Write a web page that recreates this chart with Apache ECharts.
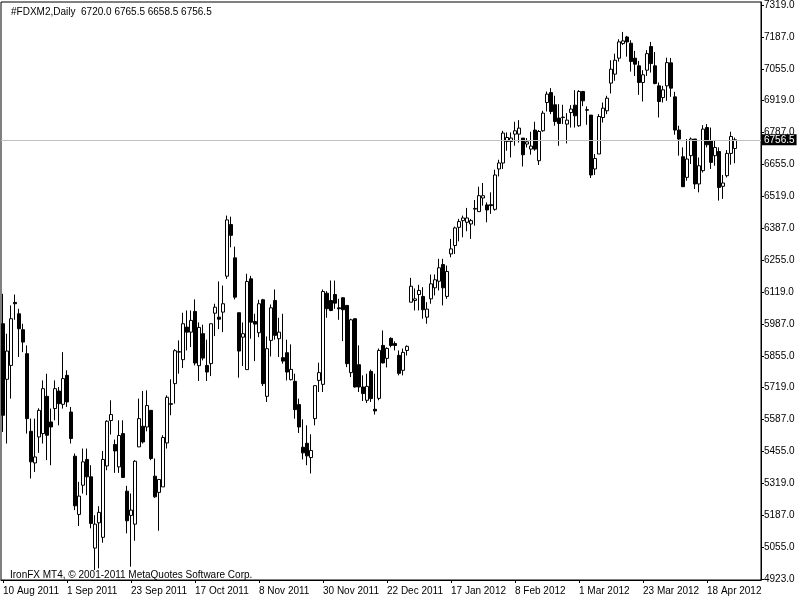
<!DOCTYPE html>
<html>
<head>
<meta charset="utf-8">
<script src="https://cdn.jsdelivr.net/npm/echarts@6/dist/echarts.min.js"></script>
<style>html,body{margin:0;padding:0;background:#fff}#c{width:800px;height:600px}</style>
</head>
<body>
<div id="c"></div>
<script>
// Daily FDXM2 candles, 10 Aug 2011 .. 18 Apr 2012
const opens = [5988.5,5756.5,5814.5,6077.5,6030,5963.5,5863.5,5539.5,5407.5,5516,5530,5685.5,5578.5,5634.5,5707.5,5652,5773,5620,5435.5,5192.5,5314.5,5422,5349.5,5052,5157.5,5097,5395,5584.5,5484.5,5391,5530,5289.5,5188.5,5152,5474.5,5560.5,5557.5,5627,5352,5284.5,5307.5,5491,5652,5738.5,5870,5838.5,5974.5,5953.5,6040,5813.5,5947,5814.5,5822,6032.5,6016,6037,6187,6402.5,6263.5,6034.5,5932.5,5797,6176,5998,5951,6088.5,5685.5,5919,6085.5,5926,5847,5867.5,5755,5748,5651,5473,5489.5,5430,5592.5,5752,5735.5,6116,6085.5,6110.5,6055,6097,6065,5784.5,6009.5,5817.5,5724.5,5669,5789.5,5631.5,5677,5898,5844,5927.5,5906,5856.5,5794,5877,6078.5,6085.5,6110.5,6102.5,6016,6092.5,6138.5,6166,6235.5,6102.5,6280,6315,6391,6419,6412,6405,6467,6456.5,6513.5,6484.5,6485.5,6466,6634.5,6659.5,6749.5,6749.5,6780,6780,6763.5,6738.5,6717.5,6797,6669,6794,6912,6953.5,6902.5,6847,6849,6822,6870,6901,6815,6958,6882,6859.5,6634.5,6697,6849.5,6877.5,6993,7030.5,7097,7158,7185.5,7159.5,7097,7065,6995.5,7047,7145.5,7065,6981.5,6932.5,6981.5,7077.5,6935.5,6797,6685.5,6599.5,6690,6759.5,6572,6627.5,6807.5,6752.5,6690,6707.5,6562,6606.5,6699.5,6720];
const highs = [6113.5,5947,6065,6110.5,6051,5988.5,5898,5592.5,5592.5,5635.5,5752,5780,5634.5,5752,5724.5,5870,5794,5641,5447,5328.5,5467.5,5467.5,5398,5189.5,5227,5457.5,5585.5,5669,5505,5585.5,5585.5,5312,5280,5419,5676,5707.5,5710.5,5627,5426,5338.5,5523,5689.5,5756.5,5882.5,5919,6034.5,6044,6044,6090,5994,5984.5,5922,5988.5,6072,6165,6148,6440,6435.5,6310.5,6034.5,5994,6197,6188.5,6030,6088.5,6092.5,5935.5,6069,6131.5,6013.5,6030,5922,5902.5,5780,5676,5589.5,5564.5,5527,5731.5,5826,6131.5,6124.5,6169,6169,6092.5,6099.5,6065,6009.5,6009.5,5898,5773,5780,5797,5780,5885,5960.5,5890,5931.5,5915,5877,5885,5898,6180,6135.5,6151,6141,6078.5,6194,6194,6259.5,6259.5,6231.5,6342.5,6394,6426,6440,6472,6426,6505,6560.5,6576,6495,6537,6631.5,6673,6794,6787,6787,6831.5,6838.5,6763.5,6763.5,6790,6831.5,6797,6877.5,6958,6972,6940,6905,6902.5,6867.5,6901,6963.5,6963.5,6960.5,6896,6859.5,6697,6863.5,6912,6940,7088.5,7116,7176,7206.5,7190,7172,7127.5,7085.5,7047,7130.5,7165,7123,6995.5,6981.5,7099.5,7098,6956.5,6815,6724.5,6759.5,6766,6759.5,6682.5,6817.5,6822,6807.5,6752.5,6724.5,6609.5,6713.5,6790,6765.5];
const lows = [5537,5488.5,5676,6005,5849.5,5870,5530,5342.5,5370,5449.5,5488.5,5419,5398,5585.5,5564.5,5634.5,5641,5488.5,5210.5,5144,5280,5273,5134.5,4960.5,4967.5,5074.5,5377,5526,5366,5366,5347,5113.5,4974.5,5082.5,5474.5,5488.5,5539.5,5419,5262,5124.5,5307.5,5467.5,5606.5,5655,5780,5803.5,5877,5891,5814.5,5749.5,5835.5,5749.5,5770,5937,5966,5953.5,6176,6307.5,6090,5763.5,5812,5797,5926,5832.5,5932.5,5728.5,5662,5852,5922,5849.5,5822,5752,5752,5592.5,5532.5,5422,5398,5363.5,5564.5,5703.5,5703.5,6013.5,6041,6051,6005,5916,5807.5,5766,5722,5703.5,5666,5657.5,5662,5609.5,5669,5823,5806,5890,5877,5773,5773,5856,6078.5,6044,6044,6009.5,5988.5,6072,6106.5,6127.5,6065,6092.5,6266,6280,6332.5,6349.5,6374.5,6342.5,6398,6456.5,6481.5,6412,6447,6460.5,6603.5,6634.5,6710.5,6682.5,6731.5,6745,6645,6724.5,6694,6710.5,6651,6790,6874.5,6863.5,6815,6731.5,6822,6741,6807.5,6807.5,6810.5,6897,6819,6597,6609.5,6697,6828.5,6863.5,6949.5,7002.5,7083,7152.5,7103.5,7041,7023,6944,6916,7023,7037,6988.5,6849.5,6912,6919,6935.5,6777.5,6690,6560.5,6585.5,6655,6551,6537,6620,6724.5,6634.5,6648,6502.5,6509.5,6599.5,6652.5,6658.5];
const closes = [5606.5,5874.5,6009.5,6072,5967.5,5912,5592.5,5412,5432.5,5627,5717.5,5523,5557.5,5717.5,5655,5759.5,5662,5509.5,5228.5,5269,5412,5349.5,5155,5152,5201,5422,5581.5,5609.5,5457.5,5522,5347,5166,5210.5,5414.5,5592.5,5495,5647,5426,5266,5338.5,5513.5,5681.5,5655,5876,5872,5988.5,5953.5,6002.5,5824.5,5973,5845,5787,5988.5,6057.5,6007.5,6072,6422,6357.5,6099.5,5874.5,5947,6165,5995,5987,6072,5738.5,5884.5,6055,5940,5953.5,5832.5,5787,5798,5630,5557.5,5449.5,5437,5459.5,5730,5784.5,6123,6051,6044,6074.5,6051,6047,5822,6005,5724.5,5724.5,5697,5727,5676,5624.5,5877,5825,5885.5,5898,5898,5781.5,5869,5894,6145,6092.5,6127.5,6047,6049.5,6155,6172,6222,6138.5,6206.5,6301,6388.5,6415,6430,6430,6419,6470,6523,6523,6463.5,6481.5,6609.5,6659.5,6784.5,6766,6763.5,6794,6805,6694,6748,6730,6717.5,6791,6867.5,6947,6874.5,6832.5,6824.5,6851,6838.5,6884.5,6856.5,6958,6919,6880,6609.5,6678.5,6853.5,6888.5,6930,7051,7088.5,7165,7169,7165,7083,7072,6995.5,7027.5,7116,7074.5,6991,6916,6965,7078.5,6972,6797,6759.5,6560.5,6676,6759.5,6572,6648,6801,6735.5,6662,6724.5,6557.5,6576,6699.5,6770,6756.5];

const xTickLabels = ['10 Aug 2011','1 Sep 2011','23 Sep 2011','17 Oct 2011','8 Nov 2011','30 Nov 2011','22 Dec 2011','17 Jan 2012','8 Feb 2012','1 Mar 2012','23 Mar 2012','18 Apr 2012'];
const yTickLabels = ['4923.0','5055.0','5187.0','5319.0','5455.0','5587.0','5719.0','5855.0','5987.0','6119.0','6255.0','6387.0','6519.0','6655.0','6787.0','6919.0','7055.0','7187.0','7319.0'];
const lastPrice = 6756.5;
const headerText = '#FDXM2,Daily  6720.0 6765.5 6658.5 6756.5';
const footerText = 'IronFX MT4, \u00a9 2001-2011 MetaQuotes Software Corp.';

const LABEL_EVERY = 16;
const PAD_BARS = 6;
const FONT = 'Liberation Sans';

const categories = [];
const candles = [];
for (let i = 0; i < opens.length + PAD_BARS; i++) {
  categories.push(String(i));
  if (i < opens.length) candles.push([opens[i], closes[i], lows[i], highs[i]]);
  else candles.push('-');
}
const yLo = parseFloat(yTickLabels[0]);
const yHi = parseFloat(yTickLabels[yTickLabels.length - 1]);
const yStep = (yHi - yLo) / (yTickLabels.length - 1);
const yTickValues = yTickLabels.map((_, i) => yLo + i * yStep);
// plot area 1..580 px; 7319 sits at y=4, 4923 at y=579
const pxPerPt = 575 / (yHi - yLo);

const chart = echarts.init(document.getElementById('c'), null, {renderer: 'canvas'});
chart.setOption({
  animation: false,
  backgroundColor: '#ffffff',
  textStyle: {fontFamily: FONT},
  title: [
    {text: headerText, left: 6, top: 2, textStyle: {fontSize: 10, fontWeight: 'normal', color: '#000', fontFamily: FONT}},
    {text: footerText, left: 5, top: 565, textStyle: {fontSize: 10, fontWeight: 'normal', color: '#000', fontFamily: FONT}}
  ],
  grid: {left: 1, top: 1, right: 39, bottom: 20, show: true, borderColor: '#000', borderWidth: 1, backgroundColor: '#fff'},
  xAxis: {
    type: 'category',
    data: categories,
    boundaryGap: true,
    axisLine: {show: true, lineStyle: {color: '#000'}},
    axisTick: {show: true, alignWithLabel: true, length: 3, lineStyle: {color: '#000'},
      interval: (idx) => idx % LABEL_EVERY === 0 && idx / LABEL_EVERY < xTickLabels.length},
    axisLabel: {
      interval: (idx) => idx % LABEL_EVERY === 0 && idx / LABEL_EVERY < xTickLabels.length,
      formatter: (v, idx) => xTickLabels[Math.round(idx / LABEL_EVERY)] || '',
      align: 'left', margin: 6, fontSize: 10, color: '#000', fontFamily: FONT
    },
    splitLine: {show: false}
  },
  yAxis: {
    type: 'value',
    position: 'right',
    scale: true,
    min: yLo - 1 / pxPerPt,
    max: yHi + 3 / pxPerPt,
    axisLine: {show: true, lineStyle: {color: '#000'}},
    axisTick: {show: true, length: 3, lineStyle: {color: '#000'}, customValues: yTickValues},
    axisLabel: {
      customValues: yTickValues,
      formatter: (v) => yTickLabels[Math.round((v - yLo) / yStep)],
      margin: 3, fontSize: 10, color: '#000', fontFamily: FONT
    },
    splitLine: {show: false}
  },
  series: [{
    type: 'candlestick',
    data: candles,
    barWidth: 3,
    itemStyle: {color: '#ffffff', color0: '#000000', borderColor: '#000000', borderColor0: '#000000', borderWidth: 1},
    markLine: {
      silent: true,
      symbol: ['none', 'none'],
      lineStyle: {color: '#c0c0c0', width: 1, type: 'solid'},
      label: {show: true, position: 'end', formatter: lastPrice.toFixed(1), backgroundColor: '#000', color: '#fff',
        padding: [1, 2, 0, 2], distance: 1, fontSize: 10, fontFamily: FONT},
      data: [{yAxis: lastPrice}]
    }
  }]
});
</script>
</body>
</html>
